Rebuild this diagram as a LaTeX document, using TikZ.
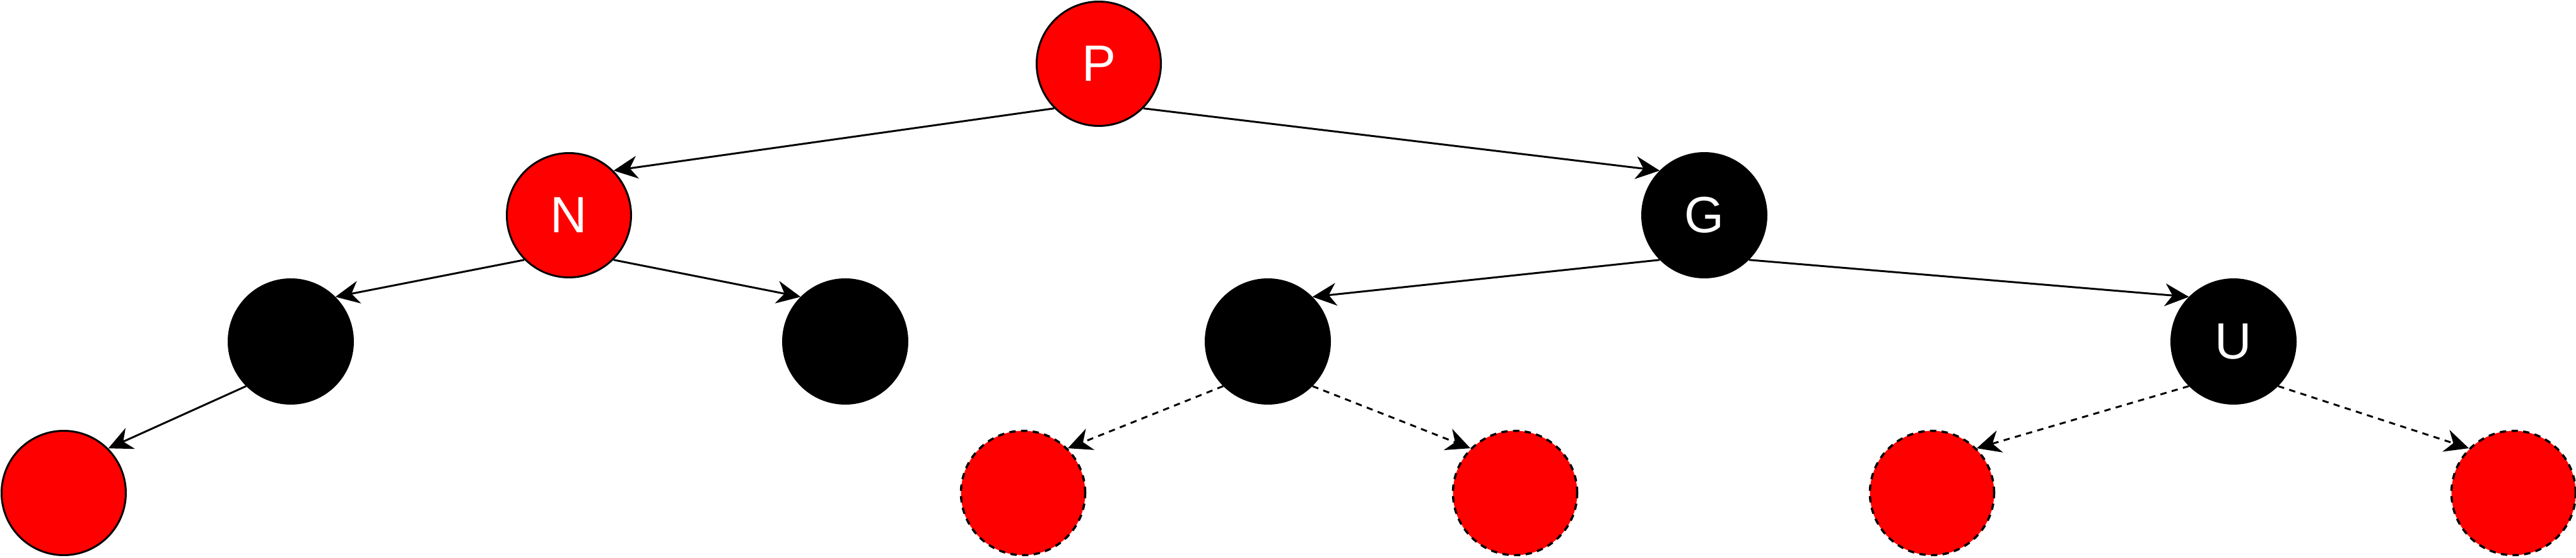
\documentclass[tikz,border=0pt]{standalone}
\usepackage{fontspec}
\setmainfont{Liberation Sans}
\usepackage{tikz}
\usetikzlibrary{arrows.meta}

\begin{document}
\begin{tikzpicture}[
        line width=0.03cm,
        treenode/.style={circle, draw=black, minimum size=1.97cm, inner sep=0pt,
            text=white, font=\fontsize{23}{23}\selectfont},
        rednode/.style={treenode, fill=red},
        blacknode/.style={treenode, fill=black},
        nilnode/.style={treenode, fill=red, line width=0.035cm, dash pattern=on 0.1cm off 0.085cm},
        link/.style={-{Stealth[length=0.38cm, width=0.36cm, inset=0.12cm]}},
        nillink/.style={link, dash pattern=on 0.1cm off 0.085cm}
    ]
    \useasboundingbox (0,0) rectangle (40.84,-8.84);
    \node[rednode](p)               at (17.42,-1.01) {P};
    \node[rednode](n)               at (9.02,-3.41) {N};
    \node[blacknode](g)             at (27.02,-3.41) {G};
    \node[blacknode](nl)            at (4.61,-5.41) {};
    \node[blacknode](nr)            at (13.40,-5.41) {};
    \node[blacknode](s)             at (20.10,-5.41) {};
    \node[blacknode](u)             at (35.41,-5.41) {U};
    \node[rednode](nll)             at (1.01,-7.81) {};
    \node[nilnode](sl)              at (16.22,-7.81) {};
    \node[nilnode](sr)              at (24.02,-7.81) {};
    \node[nilnode](ul)              at (30.63,-7.81) {};
    \node[nilnode](ur)              at (39.85,-7.81) {};
    % Links
    \path
        (p.south west)  edge [link] (n.north east)
        (p.south east)  edge [link] (g.north west)
        (n.south west)  edge [link] (nl.north east)
        (n.south east)  edge [link] (nr.north west)
        (nl.south west) edge [link] (nll.north east)
        (g.south west)  edge [link] (s.north east)
        (g.south east)  edge [link] (u.north west)
        (s.south west)  edge [nillink] (sl.north east)
        (s.south east)  edge [nillink] (sr.north west)
        (u.south west)  edge [nillink] (ul.north east)
        (u.south east)  edge [nillink] (ur.north west)
        ;
\end{tikzpicture}
\end{document}
